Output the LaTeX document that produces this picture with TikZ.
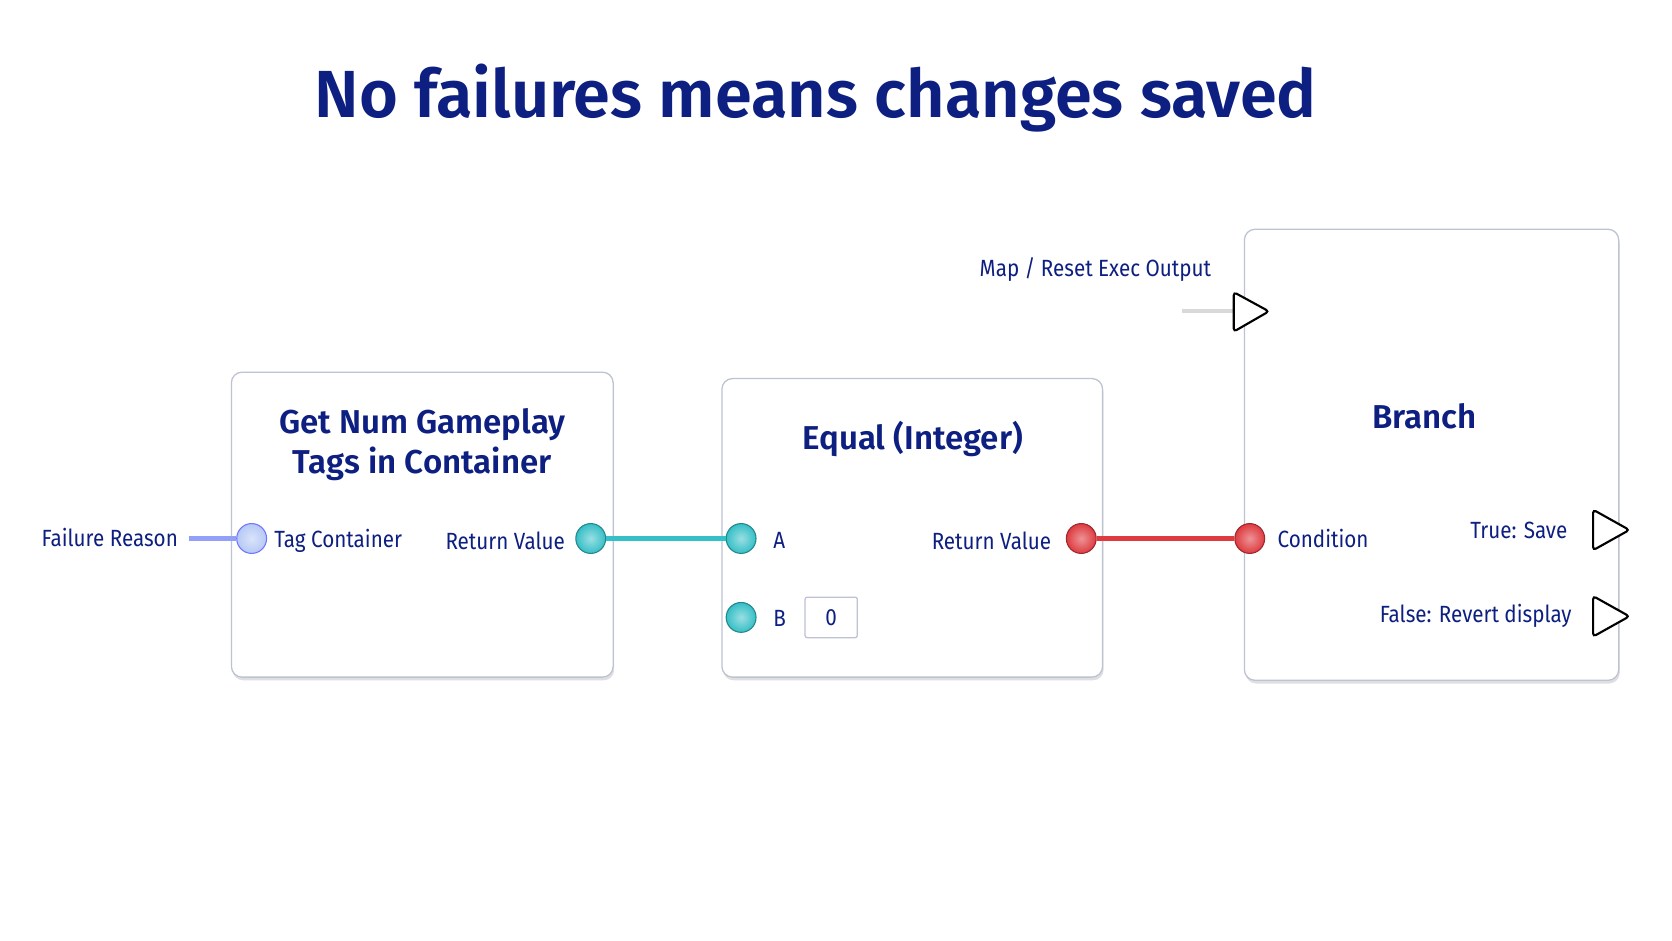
\documentclass[tikz,border=0pt]{standalone}
\usepackage{fontspec}
\setmainfont{PT Sans}
\newfontfamily\titlefont{Fira Sans SemiBold}
\newfontfamily\lblfont{Fira Sans}[FakeStretch=0.88]
\usetikzlibrary{shadows}
\definecolor{navy}{HTML}{0D1F80}
\definecolor{teal}{HTML}{35BFC6}
\definecolor{pinred}{HTML}{DE3B40}
\definecolor{pinblue}{HTML}{B5C9F5}
\definecolor{bord}{HTML}{BCC3D2}
\begin{document}
\begin{tikzpicture}[x=1pt,y=-1pt,
 box/.style={draw=bord,line width=1.2pt,rounded corners=10pt,fill=white,drop shadow={shadow xshift=1pt,shadow yshift=-3pt,opacity=0.25}},
 lbl/.style={text=navy,font=\lblfont\fontsize{22}{24}\selectfont,inner sep=0pt},
 ttl/.style={text=navy,font=\titlefont\fontsize{31}{38}\selectfont,align=center,inner sep=0pt},
 pin/.style={circle,minimum size=28pt,inner sep=0pt,line width=1pt},
 exec/.style={draw=black,line width=2pt,fill=white,rounded corners=3pt}]
\useasboundingbox (0,0) rectangle (1568,882);
\fill[white] (0,0) rectangle (1568,882);
\node[text=navy,font=\titlefont\fontsize{62.5}{70}\selectfont] (title) at (765,92) {No failures means changes saved};
% boxes
\draw[box] (217,349) rectangle (575,635);
\draw[box] (677,355) rectangle (1034,635);
\draw[box] (1167,215) rectangle (1518,638);
\node[ttl] (t1) at (396,417) {Get Num Gameplay\\Tags in Container};
\node[ttl] (t2) at (856,412) {Equal (Integer)};
\node[ttl] (t3) at (1336,390) {Branch};
% pins
\node[pin,draw=blue!55,inner color=pinblue!50,outer color=pinblue] (p1) at (236,505) {};
\node[pin,draw=teal!70!black,inner color=teal!50,outer color=teal] (p2) at (554,505) {};
\node[pin,draw=teal!70!black,inner color=teal!50,outer color=teal] (pa) at (695,505) {};
\node[pin,draw=teal!70!black,inner color=teal!50,outer color=teal] (pb) at (695,579) {};
\node[pin,draw=pinred!70!black,inner color=pinred!55,outer color=pinred] (pr) at (1014,505) {};
\node[pin,draw=pinred!70!black,inner color=pinred!55,outer color=pinred] (pc) at (1172,505) {};
% wires
\coordinate (fr) at (177,505);
\draw[pinblue!80!blue,line width=4pt] (fr) -- (p1);
\coordinate (mx) at (1108,292);
\draw[black!15,line width=4pt] (mx) -- (1160,292);
\draw[teal,line width=4pt] (p2) -- (pa);
\draw[pinred,line width=4pt] (pr) -- (pc);
% exec triangles
\draw[exec] (1157,274) -- (1190,292) -- (1157,311) -- cycle;
\draw[exec] (1494,478) -- (1528,497) -- (1494,516) -- cycle;
\draw[exec] (1494,559) -- (1528,578) -- (1494,597) -- cycle;
% labels
\node[lbl,anchor=east] (fl) at (167,504) {Failure Reason};
\node[lbl,anchor=west] (l1) at (257,507) {Tag Container};
\node[lbl,anchor=east] (l2) at (530,507) {Return Value};
\node[lbl,anchor=west] (la) at (725,507) {A};
\node[lbl,anchor=west] (lb) at (725,580) {B};
\node[draw=bord,line width=1.2pt,rounded corners=2pt,minimum width=49pt,minimum height=38pt,lbl] (zero) at (779.5,579) {0};
\node[lbl,anchor=east] (l3) at (986,507) {Return Value};
\node[lbl,anchor=west] (lc) at (1198,505) {Condition};
\node[lbl,anchor=east] (lt) at (1470,497) {True: Save};
\node[lbl,anchor=east] (lf) at (1474,578) {False: Revert display};
\node[lbl,anchor=east] (lm) at (1136,253) {Map / Reset Exec Output};
\end{tikzpicture}
\end{document}
